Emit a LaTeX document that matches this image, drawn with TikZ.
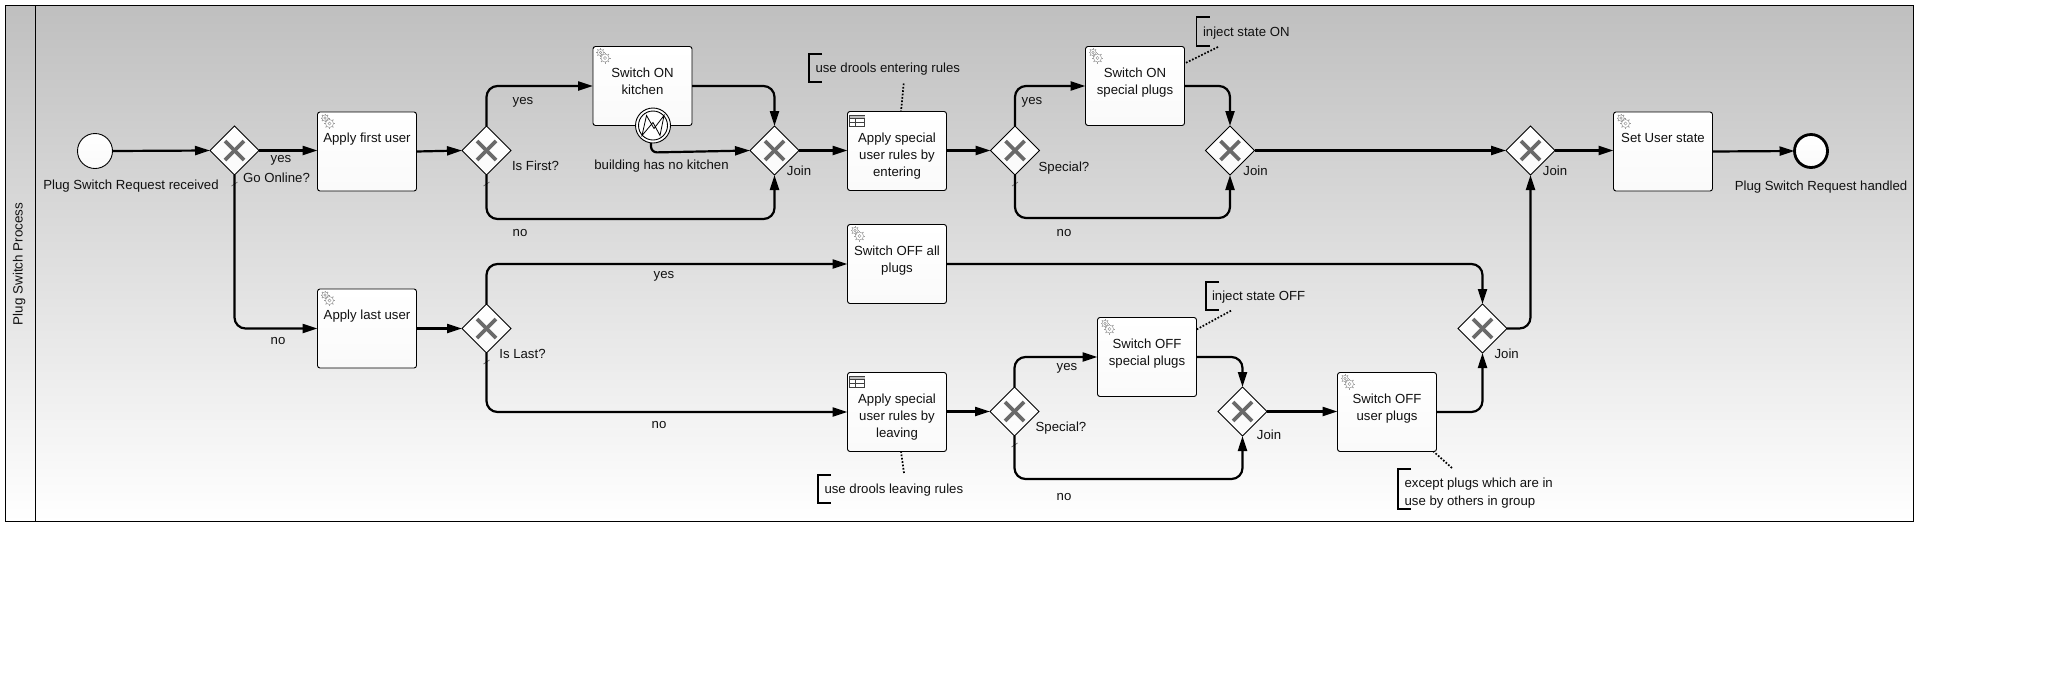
\documentclass[tikz,border=0pt]{standalone}
\usepackage{fontspec}
\setmainfont{Liberation Sans}
\usetikzlibrary{arrows.meta,shapes.geometric}
\definecolor{ink}{HTML}{111111}
\definecolor{xgray}{HTML}{6A6A6A}
\definecolor{geargray}{HTML}{9A9A9A}
\tikzset{
  lbl/.style={inner sep=0pt,outer sep=0pt,font=\fontsize{13.2}{17}\selectfont,text=ink,text height=11.5pt,text depth=3pt},
  lblw/.style={lbl,anchor=west},
  tasklbl/.style={inner sep=0pt,outer sep=0pt,anchor=north,align=center,font=\fontsize{13.2}{17}\selectfont,text=ink},
  taskbox/.style={draw=black,line width=0.9pt,rounded corners=2.5pt,top color=white,bottom color=white!98!black,minimum width=99pt,minimum height=79pt,inner sep=0pt,outer sep=0pt},
  gwbox/.style={diamond,draw=black,line width=0.9pt,top color=white,bottom color=white!98!black,minimum width=49pt,minimum height=49pt,inner sep=0pt,outer sep=0pt},
  gwx/.style={xgray,line width=3.6pt},
  evt/.style={circle,draw=black,line width=0.9pt,top color=white,bottom color=white!98!black,minimum size=35pt,inner sep=0pt,outer sep=0pt},
  flow/.style={draw=black,line width=2.2pt,rounded corners=11pt,-{Triangle[length=15pt,width=9pt]}},
  dflt/.style={draw=xgray,line width=0.7pt},
  assoc/.style={draw=black,line width=1.7pt,dash pattern=on 1.7pt off 1.7pt},
  brk/.style={draw=black,line width=1.8pt},
  gearline/.style={draw=geargray,line width=0.5pt}
}
\newcommand{\gearat}[3]{%
  \foreach \a in {0,45,...,315}{\draw[gearline,line width=1pt] ([shift={(\a:#3*0.8)}]#1,#2) -- ([shift={(\a:#3*1.1)}]#1,#2);}
  \draw[gearline,fill=white] (#1,#2) circle[radius=#3*0.8];
  \draw[gearline] (#1,#2) circle[radius=#3*0.32];}
\newcommand{\mytask}[5]{% name cx cy textoffset text
  \node[taskbox] (#1) at (#2,#3) {};
  \node[tasklbl] (#1l) at ([yshift=-#4]#1.north) {#5};}
\newcommand{\gearicon}[1]{%
  \path ([shift={(2.5,1)}]#1.north west) coordinate (#1g);
  \begin{scope}[shift={(#1g)}]
  \gearat{5}{5}{3.9}\gearat{9.5}{10.5}{5}
  \end{scope}}
\newcommand{\gw}[3]{%
  \node[gwbox] (#1) at (#2,#3) {};
  \draw[gwx] ([shift={(-9.5,-9.5)}]#1.center) -- ([shift={(9.5,9.5)}]#1.center);
  \draw[gwx] ([shift={(-9.5,9.5)}]#1.center) -- ([shift={(9.5,-9.5)}]#1.center);}
\newcommand{\annbrk}[3]{% x y0 y1
  \draw[brk] (#1+13,#2) -- (#1,#2) -- (#1,#3) -- (#1+13,#3);}
\newcommand{\dfltick}[1]{\draw[dflt] ([shift={(-3,11)}]#1.south) -- ([shift={(3,7)}]#1.south);}
\newcommand{\tableicon}[1]{%
  \draw[black!75,line width=0.6pt,fill=white] ([shift={(2,4)}]#1.north west) rectangle ([shift={(17,15)}]#1.north west);
  \fill[black!25] ([shift={(2,4)}]#1.north west) rectangle ([shift={(17,7)}]#1.north west);
  \draw[black!75,line width=0.6pt] ([shift={(2,7)}]#1.north west) -- ([shift={(17,7)}]#1.north west);
  \draw[black!75,line width=0.6pt] ([shift={(2,11)}]#1.north west) -- ([shift={(17,11)}]#1.north west);
  \draw[black!75,line width=0.6pt] ([shift={(8,7)}]#1.north west) -- ([shift={(8,15)}]#1.north west);}
\begin{document}
\begin{tikzpicture}[x=1pt,y=-1pt]
\useasboundingbox (0,0) rectangle (2070,678);
\fill[white] (0,0) rectangle (2070,678);
% pool
\node[draw=black,line width=0.9pt,top color=black!25,bottom color=white,minimum width=1908pt,minimum height=516pt,inner sep=0pt,outer sep=0pt] (pool) at (959,263) {};
\coordinate (laneT) at (35,5); \coordinate (laneB) at (35,521);
\draw[black,line width=0.9pt] (laneT) -- (laneB);
\node[lbl,rotate=90,font=\fontsize{13.4}{15}\selectfont] (ptitle) at (18.5,264) {Plug Switch Process};
% events
\node[evt] (start) at (95,151) {};
\node[evt,line width=2.8pt,minimum size=33pt] (end) at (1811,151) {};
% tasks
\mytask{tfirst}{367}{151.5}{21}{Apply first user}
\mytask{tlast}{367}{328.5}{21}{Apply last user}
\mytask{tkit}{642.5}{86}{21}{Switch ON\\kitchen}
\mytask{tenter}{897}{151}{21}{Apply special\\user rules by\\entering}
\mytask{tson}{1135}{86}{21}{Switch ON\\special plugs}
\mytask{tset}{1663}{151.5}{21}{Set User state}
\mytask{toffall}{897}{264}{21}{Switch OFF all\\plugs}
\mytask{tleave}{897}{412}{21}{Apply special\\user rules by\\leaving}
\mytask{tsoff}{1147}{357}{21}{Switch OFF\\special plugs}
\mytask{tuser}{1387}{412}{21}{Switch OFF\\user plugs}
\gearicon{tfirst}\gearicon{tlast}\gearicon{tkit}\gearicon{tson}\gearicon{tset}\gearicon{toffall}\gearicon{tsoff}\gearicon{tuser}
\tableicon{tenter}\tableicon{tleave}
% gateways
\gw{g1}{234.5}{150.5}
\gw{g2}{486.5}{150.5}
\gw{jk}{774.5}{150.5}
\gw{sp1}{1015}{150.5}
\gw{j1}{1230}{150.5}
\gw{j2}{1530.5}{150.5}
\gw{g3}{486.5}{328.5}
\gw{sp2}{1014.5}{411.5}
\gw{j3}{1242.5}{411.5}
\gw{j4}{1482.5}{328.5}
\dfltick{g1}\dfltick{g2}\dfltick{g3}\dfltick{sp1}\dfltick{sp2}
% boundary event
\node[circle,draw=black,line width=0.9pt,fill=white,minimum size=35pt,inner sep=0pt,outer sep=0pt] (bev) at (653,125.5) {};
\node[circle,draw=black,line width=0.9pt,minimum size=29pt,inner sep=0pt,outer sep=0pt] (bevi) at (bev.center) {};
\draw[black,line width=0.8pt,line join=miter] ([shift={(-11,10)}]bev.center) -- ([shift={(-6.5,-10)}]bev.center) -- ([shift={(1,3)}]bev.center) -- ([shift={(11,-10)}]bev.center) -- ([shift={(7,10)}]bev.center) -- ([shift={(0,-3)}]bev.center) -- cycle;
% flows
\draw[flow] (start.east) -- (g1.west);
\draw[flow] (g1.east) -- (tfirst.west|-g1.east);
\draw[flow] (g1.south) |- (tlast.west);
\draw[flow] (tfirst.east) -- (g2.west);
\draw[flow] (g2.north) |- (tkit.west);
\draw[flow] (g2.south) -- ++(0,44) -| (jk.south);
\draw[flow] (tkit.east) -| (jk.north);
\coordinate (bevout) at (651,143);
\coordinate (bevmid) at (651,152.5);
\draw[flow,rounded corners=6pt] (bevout) -- (bevmid) -- (jk.west);
\draw[flow] (jk.east) -- (tenter.west|-jk.east);
\draw[flow] (tenter.east|-sp1.west) -- (sp1.west);
\draw[flow] (sp1.north) |- (tson.west);
\draw[flow] (sp1.south) -- ++(0,43) -| (j1.south);
\draw[flow] (tson.east) -| (j1.north);
\draw[flow] (j1.east) -- (j2.west);
\draw[flow] (j2.east) -- (tset.west|-j2.east);
\draw[flow] (tset.east) -- (end.west);
\draw[flow] (g3.north) |- (toffall.west);
\draw[flow] (g3.south) |- (tleave.west);
\draw[flow] (tlast.east) -- (g3.west);
\draw[flow] (toffall.east) -| (j4.north);
\draw[flow] (tleave.east|-sp2.west) -- (sp2.west);
\draw[flow] (sp2.north) |- (tsoff.west);
\draw[flow] (sp2.south) -- ++(0,43) -| (j3.south);
\draw[flow] (tsoff.east) -| (j3.north);
\draw[flow] (j3.east) -- (tuser.west|-j3.east);
\draw[flow] (tuser.east) -| (j4.south);
\draw[flow] (j4.east) -| (j2.south);
% annotations
\annbrk{809}{54}{82}
\node[lblw] (a1) at (815.5,68.7) {use drools entering rules};
\coordinate (a1c) at (903.7,83.5);
\draw[assoc] (a1c) -- ([xshift=4]tenter.north);
\annbrk{1196.5}{17}{45.7}
\node[lblw] (a2) at (1203,32.5) {inject state ON};
\coordinate (a2c) at (1218,47);
\draw[assoc] (a2c) -- ([yshift=-17]tson.north east);
\annbrk{818}{475}{503}
\node[lblw] (a3) at (824.5,489.7) {use drools leaving rules};
\coordinate (a3c) at (904,473);
\draw[assoc] (a3c) -- ([xshift=4]tleave.south);
\annbrk{1206}{282}{310}
\node[lblw] (a4) at (1212,296.7) {inject state OFF};
\coordinate (a4c) at (1231,310.7);
\draw[assoc] (a4c) -- ([yshift=-12]tsoff.north east);
\annbrk{1398}{469}{509}
\node[lblw] (a5a) at (1404.6,483.7) {except plugs which are in};
\node[lblw] (a5b) at (1404.6,501) {use by others in group};
\coordinate (a5c) at (1452,468);
\draw[assoc] (a5c) -- ([xshift=-3]tuser.south east);
% labels
\node[lbl] (l1) at (131,185.7) {Plug Switch Request received};
\node[lbl] (l2) at (281,158.7) {yes};
\node[lbl] (l3) at (276.5,178.7) {Go Online?};
\node[lbl] (l4) at (535.5,166) {Is First?};
\node[lbl] (l5) at (523,100) {yes};
\node[lbl] (l6) at (520,232) {no};
\node[lbl] (l7) at (278,340) {no};
\node[lbl] (l8) at (664,274) {yes};
\node[lbl] (l9) at (522.5,354) {Is Last?};
\node[lbl] (l10) at (659,424) {no};
\node[lbl] (l11) at (661.5,165.7) {building has no kitchen};
\node[lbl] (l12) at (799,171.7) {Join};
\node[lbl] (l13) at (1064,167) {Special?};
\node[lbl] (l14) at (1032,100) {yes};
\node[lbl] (l15) at (1064,232) {no};
\node[lbl] (l16) at (1255.5,171.7) {Join};
\node[lbl] (l17) at (1555,171.7) {Join};
\node[lbl] (l18) at (1821,186) {Plug Switch Request handled};
\node[lbl] (l19) at (1061,427.7) {Special?};
\node[lbl] (l20) at (1067,366.7) {yes};
\node[lbl] (l21) at (1064,496) {no};
\node[lbl] (l22) at (1269,435.7) {Join};
\node[lbl] (l23) at (1506.7,354.7) {Join};
\end{tikzpicture}
\end{document}
